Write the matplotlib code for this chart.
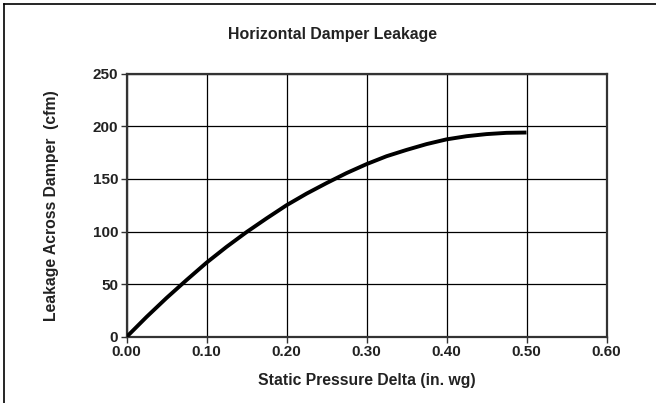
import matplotlib.pyplot as plt
from matplotlib.lines import Line2D

plt.rcParams['font.family'] = ['Liberation Sans', 'DejaVu Sans']
plt.rcParams['font.weight'] = 'bold'

# static pressure delta (in. wg) and leakage (cfm)
pressure = [0.0, 0.025, 0.05, 0.075, 0.10, 0.125, 0.15, 0.175, 0.20, 0.225, 0.25,
            0.275, 0.30, 0.325, 0.35, 0.375, 0.40, 0.425, 0.45, 0.475, 0.50]
leakage = [0, 19, 37, 54, 70.5, 85.5, 99.5, 112.5, 125, 136, 146,
           155.5, 164, 171.5, 177.5, 183, 187.5, 190.5, 192.5, 193.7, 194]

x_ticks = [0.0, 0.1, 0.2, 0.3, 0.4, 0.5, 0.6]
x_labels = ['0.00', '0.10', '0.20', '0.30', '0.40', '0.50', '0.60']
y_ticks = [0, 50, 100, 150, 200, 250]

fig = plt.figure(figsize=(6.56, 4.03), dpi=100)
ax = fig.add_axes([126.5 / 656, 1 - 337 / 403, 480 / 656, 263.5 / 403])

ax.plot(pressure, leakage, color='black', lw=2.8, solid_capstyle='butt',
        solid_joinstyle='round', zorder=3)

ax.set_xlim(0, 0.6)
ax.set_ylim(0, 250)
ax.set_xticks(x_ticks)
ax.set_xticklabels(x_labels)
ax.set_yticks(y_ticks)
ax.grid(True, color='black', lw=0.9)
for s in ax.spines.values():
    s.set_color('#333333')
    s.set_linewidth(1.6)
ax.tick_params(axis='both', direction='out', length=4, width=1, color='#333333',
               labelsize=11, pad=2)
for lbl in ax.get_xticklabels() + ax.get_yticklabels():
    lbl.set_fontweight('bold')
    lbl.set_color('#222222')

ax.set_xlabel('Static Pressure Delta (in. wg)', fontsize=11.3, fontweight='bold',
              color='#222222', labelpad=10)
ax.set_ylabel('Leakage Across Damper  (cfm)', fontsize=11.3, fontweight='bold',
              color='#222222', labelpad=24)
fig.text(333 / 656, 1 - 34 / 403, 'Horizontal Damper Leakage',
         ha='center', va='center', fontsize=11.4, fontweight='bold', color='#222222')

# frame lines along the top and left edges of the figure
fig.add_artist(Line2D([4 / 656, 1], [1 - 4 / 403, 1 - 4 / 403], color='black', lw=1.2))
fig.add_artist(Line2D([4 / 656, 4 / 656], [0, 1 - 4 / 403], color='black', lw=1.2))

fig.savefig('out.png', dpi=100)
